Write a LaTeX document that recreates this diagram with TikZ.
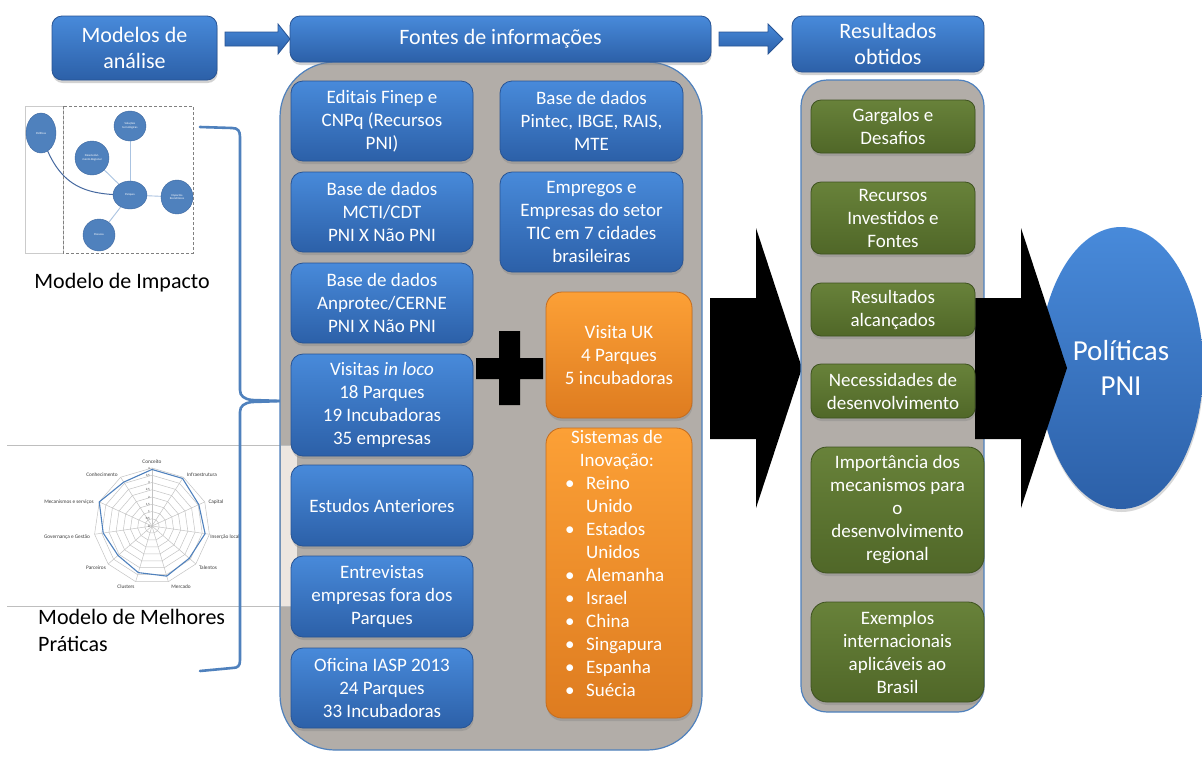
\documentclass[tikz,border=0pt]{standalone}
\usepackage{fontspec}
\setmainfont{Carlito}
\usetikzlibrary{shadows,shapes.geometric,calc}

\definecolor{bluetop}{RGB}{72,138,218}
\definecolor{bluebot}{RGB}{44,96,168}
\definecolor{blueedge}{RGB}{40,84,148}
\definecolor{orangetop}{RGB}{252,160,54}
\definecolor{orangebot}{RGB}{222,124,32}
\definecolor{orangeedge}{RGB}{196,108,30}
\definecolor{greentop}{RGB}{104,130,58}
\definecolor{greenbot}{RGB}{80,103,40}
\definecolor{greenedge}{RGB}{62,82,32}
\definecolor{panelgray}{RGB}{178,173,168}
\definecolor{paneledge}{RGB}{79,129,189}
\definecolor{bracecol}{RGB}{79,129,189}
\definecolor{bubble}{RGB}{79,129,189}
\definecolor{bubbleedge}{RGB}{62,104,160}
\definecolor{linkpale}{RGB}{170,195,225}
\definecolor{linkdark}{RGB}{70,105,160}
\definecolor{gridgray}{RGB}{196,196,196}
\definecolor{rulegray}{RGB}{190,190,190}
\definecolor{stripcol}{RGB}{237,230,224}
\definecolor{labelgray}{RGB}{60,60,60}

\tikzset{
  card/.style={line width=0.8pt, text=white, align=center, inner sep=2pt,
    font=\fontsize{19}{23}\selectfont,
    drop shadow={opacity=0.35, shadow xshift=0.6pt, shadow yshift=-3pt}},
  bluecard/.style={card, rounded corners=12pt, draw=blueedge, top color=bluetop, bottom color=bluebot},
  orangecard/.style={card, rounded corners=16pt, draw=orangeedge, top color=orangetop, bottom color=orangebot},
  greencard/.style={card, rounded corners=10pt, draw=greenedge, top color=greentop, bottom color=greenbot},
  titlecard/.style={card, rounded corners=10pt, draw=blueedge, top color=bluetop, bottom color=bluebot,
    font=\fontsize{22}{26.5}\selectfont},
  panel/.style={draw=paneledge, line width=1.2pt, fill=panelgray},
  blockarrow/.style={draw=blueedge, line width=0.8pt, top color=bluetop, bottom color=bluebot},
  bigarrow/.style={fill=black},
  bracestyle/.style={draw=bracecol, line width=2.6pt, line cap=round, line join=round},
  bubblenode/.style={ellipse, draw=bubbleedge, line width=0.4pt, fill=bubble, text=white,
    inner sep=0pt, align=center, font=\fontsize{3}{3.6}\selectfont},
  paleline/.style={draw=linkpale, line width=0.9pt},
  radargrid/.style={draw=gridgray, line width=0.5pt},
  radardata/.style={draw=bubble, line width=1.1pt, line join=round},
  radarlabel/.style={text=labelgray, inner sep=0pt, font=\fontsize{5.3}{6}\selectfont},
  ticklabel/.style={text=labelgray, inner sep=0pt, anchor=east, font=\fontsize{3.2}{3.6}\selectfont},
  caption/.style={text=black, inner sep=0pt, font=\fontsize{22}{27}\selectfont}
}

\begin{document}
\begin{tikzpicture}[x=1pt, y=-1pt]
\useasboundingbox (0,0) rectangle (1202,756);
\fill[white] (0,0) rectangle (1202,756);

% ---------- impact model sketch ----------
\draw[draw=rulegray!80, line width=0.6pt] (25,106) rectangle (63,253);
\draw[draw=gray, line width=0.5pt, densely dashed] (63,106) rectangle (193,253);
\path (41,133) coordinate (cpol) (130,126) coordinate (csol) (92,158) coordinate (cdes)
      (130,195) coordinate (cpar) (177,197) coordinate (cimp) (99,235) coordinate (cpes);
\draw[paleline] (csol) -- (cpar);
\draw[paleline] (cdes) -- (cpar);
\draw[paleline] (cpar) -- (cimp);
\draw[paleline] (cpar) -- (cpes);
\draw[draw=linkdark, line width=1pt] (cpol) .. controls (58,188) and (85,195) .. (cpar);
\node[bubblenode, minimum width=30pt, minimum height=40pt] (mpol) at (cpol) {Políticas};
\node[bubblenode, minimum width=32pt, minimum height=30pt] (msol) at (csol) {Soluções\\tecnológicas};
\node[bubblenode, minimum width=34pt, minimum height=34pt] (mdes) at (cdes) {Desenvolvi-\\mento Regional};
\node[bubblenode, minimum width=34pt, minimum height=28pt] (mpar) at (cpar) {Parques};
\node[bubblenode, minimum width=32pt, minimum height=34pt] (mimp) at (cimp) {Impactos\\Econômicos};
\node[bubblenode, minimum width=32pt, minimum height=32pt] (mpes) at (cpes) {Pessoas};

\node[caption] (impacto) at (122,283) {Modelo de Impacto};

% ---------- best practice radar ----------
\draw[draw=rulegray, line width=0.8pt] (7,445) -- (297,445);
\draw[draw=rulegray, line width=0.8pt] (7,606) -- (297,606);
\foreach \i in {1,...,8}{
  \pgfmathsetmacro\rr{7.25*\i}
  \draw[radargrid] plot[samples at={0,...,10}] ({152+\rr*cos(90-\x*360/11)},{526-\rr*sin(90-\x*360/11)}) -- cycle;
}
\foreach \k in {0,...,10}{
  \draw[radargrid] (152,526) -- ({152+58*cos(90-\k*360/11)},{526-58*sin(90-\k*360/11)});
}
\foreach \i/\t in {0/0,1/{0,5},2/1,3/{1,5},4/2,5/{2,5},6/3,7/{3,5},8/4}{
  \node[ticklabel] (rtick\i) at (150,{526-7.25*\i}) {\t};
}
\draw[radardata] (152,{526-14.5*3.9})
  \foreach \k/\v in {1/3.9,2/3.55,3/3.7,4/3.4,5/3.6,6/3.35,7/3.1,8/3.4,9/4.0,10/3.6}{
    -- ({152+14.5*\v*cos(90-\k*360/11)},{526-14.5*\v*sin(90-\k*360/11)}) } -- cycle;
\node[radarlabel] (rl1) at (152,462) {Conceito};
\node[radarlabel] (rl2) at (202,475) {Infraestrutura};
\node[radarlabel] (rl3) at (216,502) {Capital};
\node[radarlabel] (rl4) at (225,537) {Inserção local};
\node[radarlabel] (rl5) at (208,568) {Talentos};
\node[radarlabel] (rl6) at (181,587) {Mercado};
\node[radarlabel] (rl7) at (126,587) {Clusters};
\node[radarlabel] (rl8) at (96,568) {Parceiros};
\node[radarlabel] (rl9) at (67,537) {Governança e Gestão};
\node[radarlabel] (rl10) at (69,502) {Mecanismos e serviços};
\node[radarlabel] (rl11) at (102,475) {Conhecimento};

\node[caption, anchor=north west, align=left] (melhores) at (38,609) {Modelo de Melhores\\Práticas};

% ---------- brace joining both models ----------
\coordinate (braceTop) at (200,127);
\coordinate (braceTip) at (283,401);
\coordinate (braceBot) at (200,671);
\draw[bracestyle] (braceTop) -- (232,128) .. controls (238,128) and (240,131) .. (240,137)
  -- (240,390) .. controls (240,396) and (244,399) .. (252,400) -- (braceTip);
\draw[bracestyle] (braceTip) -- (252,402) .. controls (244,403) and (240,406) .. (240,412)
  -- (240,660) .. controls (240,666) and (238,668) .. (232,668) -- (braceBot);

% ---------- information sources ----------
\node[panel, rounded corners=55pt, minimum width=422pt, minimum height=688pt, inner sep=0pt] (fontespanel) at (491,406) {};
\fill[stripcol] (281,446) rectangle (297,606);
\draw[draw=rulegray, line width=0.8pt] (281,445) -- (297,445);
\draw[draw=rulegray, line width=0.8pt] (281,606) -- (297,606);

\node[bluecard, minimum width=182pt, minimum height=80pt] (editais) at (382,121) {Editais Finep e\\CNPq (Recursos\\PNI)};
\node[bluecard, minimum width=182pt, minimum height=80pt] (mcti) at (382,212) {Base de dados\\MCTI/CDT\\PNI X Não PNI};
\node[bluecard, minimum width=182pt, minimum height=80pt] (anprotec) at (382,303) {Base de dados\\Anprotec/CERNE\\PNI X Não PNI};
\node[bluecard, minimum width=182pt, minimum height=102pt] (visitas) at (382,405) {Visitas \textit{in loco}\\18 Parques\\19 Incubadoras\\35 empresas};
\node[bluecard, minimum width=182pt, minimum height=81pt] (estudos) at (382,505.5) {Estudos Anteriores};
\node[bluecard, minimum width=182pt, minimum height=81pt] (entrevistas) at (382,596.5) {Entrevistas\\empresas fora dos\\Parques};
\node[bluecard, minimum width=182pt, minimum height=80pt] (oficina) at (382,688) {Oficina IASP 2013\\24 Parques\\33 Incubadoras};

\node[bluecard, minimum width=183pt, minimum height=80pt] (pintec) at (591.5,121) {Base de dados\\Pintec, IBGE, RAIS,\\MTE};
\node[bluecard, minimum width=183pt, minimum height=100pt] (empregos) at (591.5,222) {Empregos e\\Empresas do setor\\TIC em 7 cidades\\brasileiras};

\node[orangecard, minimum width=146pt, minimum height=126pt] (ukvisit) at (619,355) {Visita UK\\4 Parques\\5 incubadoras};
\node[orangecard, minimum width=146pt, minimum height=290pt] (sistemas) at (619,573) {};
\node[anchor=north west, inner sep=0pt, text=white, font=\fontsize{19}{23}\selectfont] (sistemasText) at (565,427)
  {\begin{tabular}{@{}p{21pt}@{}l@{}}
   \multicolumn{2}{c}{Sistemas de}\\
   \multicolumn{2}{c}{Inovação:}\\
   \textbullet & Reino\\
               & Unido\\
   \textbullet & Estados\\
               & Unidos\\
   \textbullet & Alemanha\\
   \textbullet & Israel\\
   \textbullet & China\\
   \textbullet & Singapura\\
   \textbullet & Espanha\\
   \textbullet & Suécia
   \end{tabular}};

% plus sign between the two source groups
\fill[black] (499,331) -- (520,331) -- (520,358) -- (543,358) -- (543,379) -- (520,379)
  -- (520,405) -- (499,405) -- (499,379) -- (476,379) -- (476,358) -- (499,358) -- cycle;

% ---------- header row ----------
\coordinate (hA) at (225,32);
\coordinate (hB) at (719,32);
\draw[blockarrow] (hA) -- ++(53,0) -- ++(0,-8) -- ++(12,15) -- ++(-12,15) -- ++(0,-8) -- ++(-53,0) -- cycle;
\draw[blockarrow] (hB) -- ++(49,0) -- ++(0,-8) -- ++(15,15) -- ++(-15,15) -- ++(0,-8) -- ++(-49,0) -- cycle;
\node[titlecard, minimum width=165pt, minimum height=64pt] (modelos) at (134.5,48) {Modelos de\\análise};
\node[titlecard, minimum width=421pt, minimum height=46pt] (fontes) at (500.5,39) {Fontes de informações};
\node[titlecard, minimum width=192pt, minimum height=56pt] (resultados) at (888,44) {Resultados\\obtidos};

% ---------- first big arrow ----------
\coordinate (bigA) at (710,298);
\fill[bigarrow] (bigA) -- ++(46,0) -- ++(0,-70) -- ++(46,140) -- ++(-46,140) -- ++(0,-69) -- ++(-46,0) -- cycle;

% ---------- results ----------
\node[panel, rounded corners=26pt, minimum width=183pt, minimum height=632pt, inner sep=0pt] (respanel) at (892.5,396) {};

\node[ellipse, minimum width=164pt, minimum height=282pt, inner sep=0pt, top color=bluetop, bottom color=bluebot,
  text=white, align=center, font=\fontsize{29}{35}\selectfont,
  drop shadow={opacity=0.3, shadow xshift=0.6pt, shadow yshift=-3pt}] (politicas) at (1121,368) {Políticas\\PNI};

% second big arrow
\coordinate (bigB) at (975,298);
\fill[bigarrow] (bigB) -- ++(46,0) -- ++(0,-70) -- ++(46,140) -- ++(-46,140) -- ++(0,-69) -- ++(-46,0) -- cycle;

\node[greencard, minimum width=164pt, minimum height=53pt] (gargalos) at (893,126.5) {Gargalos e\\Desafios};
\node[greencard, minimum width=164pt, minimum height=72pt] (recursos) at (893,218) {Recursos\\Investidos e\\Fontes};
\node[greencard, minimum width=164pt, minimum height=53pt] (alcancados) at (893,309.5) {Resultados\\alcançados};
\node[greencard, minimum width=164pt, minimum height=54pt] (necessidades) at (893,391) {Necessidades de\\desenvolvimento};
\node[greencard, rounded corners=16pt, minimum width=173pt, minimum height=126pt] (importancia) at (897.5,510) {Importância dos\\mecanismos para\\o\\desenvolvimento\\regional};
\node[greencard, rounded corners=16pt, minimum width=173pt, minimum height=100pt] (exemplos) at (897.5,652) {Exemplos\\internacionais\\aplicáveis ao\\Brasil};
\end{tikzpicture}
\end{document}
